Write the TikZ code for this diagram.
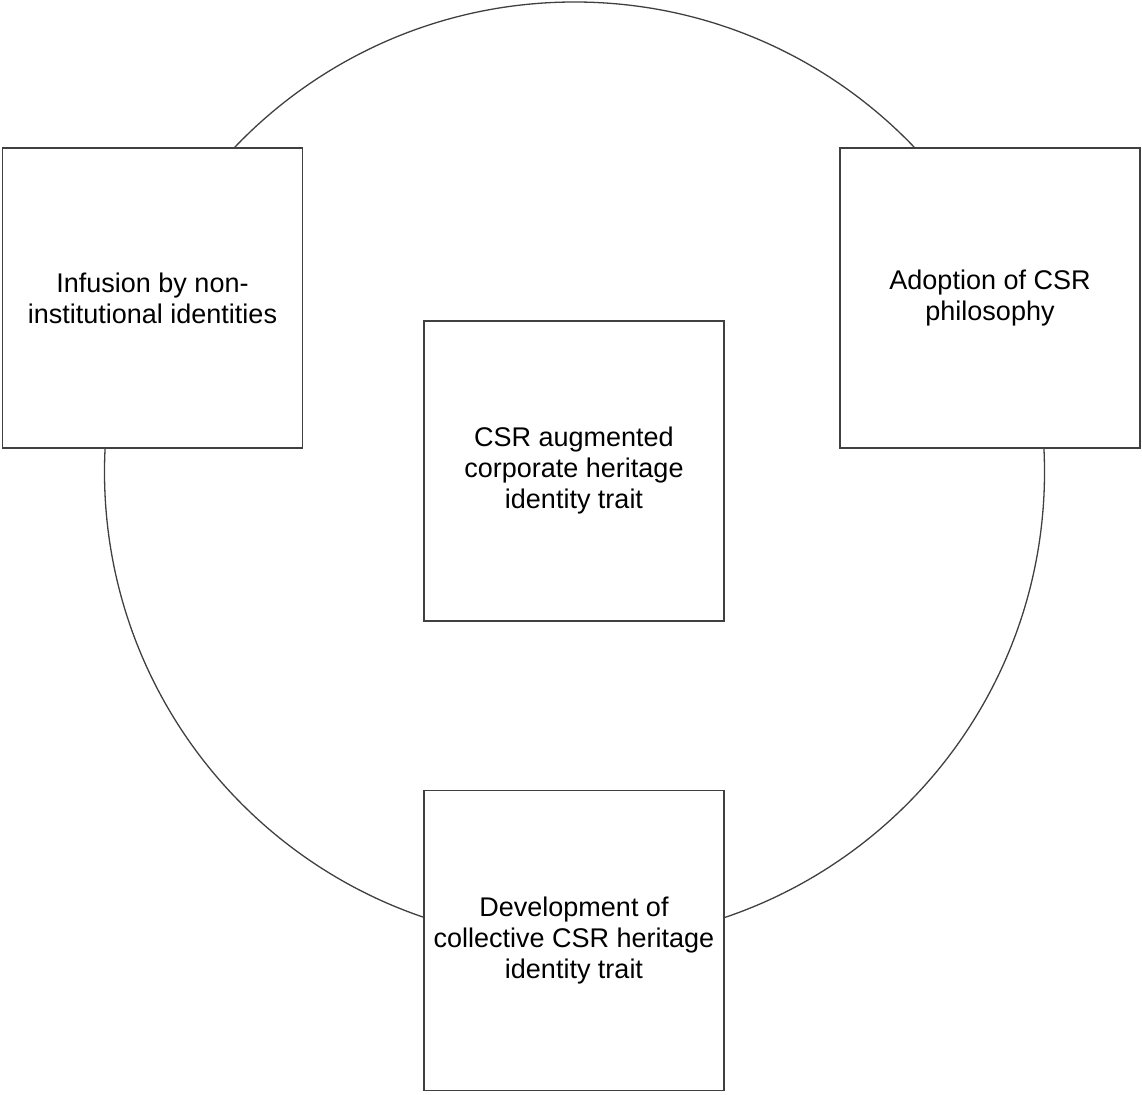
\documentclass[tikz,border=0pt]{standalone}
\usepackage{fontspec}
\setmainfont{Liberation Sans}
\begin{document}
\begin{tikzpicture}[x=1pt,y=-1pt,
  line width=1.3pt,
  boxnode/.style={draw=black!75, fill=white, minimum width=300pt, minimum height=300pt,
    inner sep=0pt, align=center, font=\fontsize{27}{31}\selectfont, text=black},
  ring/.style={draw=black!75, line width=1.3pt}]
\useasboundingbox (0,0) rectangle (1142,1094);
% outer cycle
\draw[ring] (574.5,472) circle[radius=470];
% boxes
\node[boxnode] (infusion) at (152.5,298) {Infusion by non-\\institutional identities};
\node[boxnode] (adoption) at (990,298) {Adoption of CSR\\philosophy};
\node[boxnode] (core) at (574,471) {CSR augmented\\corporate heritage\\identity trait};
\node[boxnode] (develop) at (574,940.5) {Development of\\collective CSR heritage\\identity trait};
\end{tikzpicture}
\end{document}
